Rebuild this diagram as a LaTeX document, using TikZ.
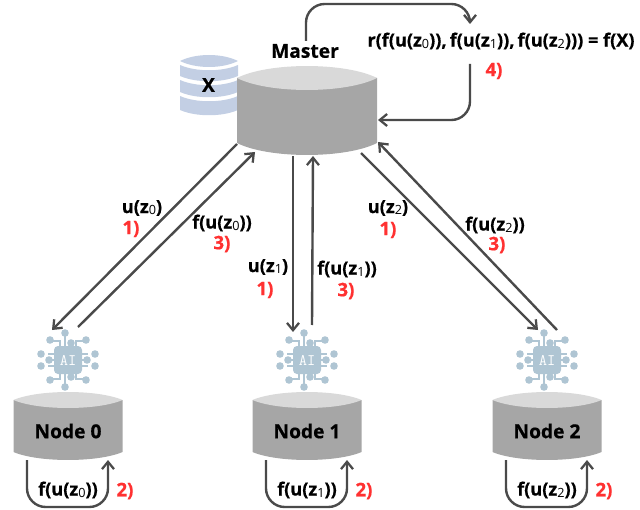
\documentclass[tikz,border=0pt]{standalone}
\usepackage{fontspec}
\setmainfont{Open Sans}[BoldFeatures={FakeBold=0.6}]
\usetikzlibrary{arrows.meta}
\definecolor{lineg}{HTML}{4A4A4A}
\definecolor{sideg}{HTML}{A6A6A6}
\definecolor{topg}{HTML}{D9D9D9}
\definecolor{dbblue}{HTML}{C3CFE4}
\definecolor{chip}{HTML}{AFC5D3}
\definecolor{redl}{HTML}{FF3131}
\newcommand{\zsub}[1]{\raisebox{-1.4pt}{\fontsize{9.5}{9.5}\selectfont\mdseries #1}}
\tikzset{
 x=0.75pt,y=-0.75pt,
 conn/.style={draw=lineg,line width=1.8pt,-{Straight Barb[length=5.5pt,width=9pt,line width=1.7pt]}},
 connr/.style={conn,rounded corners=14pt},
 lab/.style={font=\fontsize{13.6}{15}\selectfont\bfseries,text=black,inner sep=0pt},
 redlab/.style={font=\fontsize{14}{16}\selectfont\bfseries,text=redl,inner sep=0pt},
 nlab/.style={font=\fontsize{14.4}{16}\selectfont\bfseries,text=black,inner sep=0pt},
 chipline/.style={draw=chip,line width=1.1pt},
 chipdot/.style={fill=chip,draw=none},
 pics/aichip/.style={code={
  \foreach \a/\b/\c/\d/\e/\f in {-8/-10/-8/-19/-15/-19, 8/-10/8/-19/15/-19, -8/10/-8/19/-15/19, 8/10/8/19/15/19,
     -12/-6/-20/-6/-20/-6, 12/-6/20/-6/20/-6, -12/6/-20/6/-20/6, 12/6/20/6/20/6}{
   \draw[chipline] (\a,\b)--(\c,\d)--(\e,\f);}
  \draw[chipline] (-3,-12)--(-3,-20)--(-3,-26); \draw[chipline] (3,-12)--(3,-17);
  \draw[chipline] (-3,12)--(-3,20)--(-3,26); \draw[chipline] (3,12)--(3,17);
  \foreach \a/\b in {-18/-20,18/-20,-18/20,18/20,-3/-27,3/-17,-3/27,3/17,-27/-6,27/-6,-27/6,27/6,-19/0,19/0}{
   \fill[chipdot] (\a,\b) circle[radius=3.8];}
  \draw[chipline] (-19,0)--(19,0);
  \fill[chip,rounded corners=3pt] (-14,-14) rectangle (14,14);
  \node[inner sep=0pt,text=white,font=\fontsize{12}{12}\ttfamily] at (0,0) {AI};
 }}
}
\newcommand{\drawcyl}[7]{%
  \fill[#6] (#1-#3,#2) -- (#1-#3,#2+#4) .. controls (#1-#3*0.55,#2+#4+#5*1.33) and (#1+#3*0.55,#2+#4+#5*1.33) .. (#1+#3,#2+#4) -- (#1+#3,#2) -- cycle;
  \fill[#7] (#1-#3,#2) .. controls (#1-#3*0.55,#2-#5*1.33) and (#1+#3*0.55,#2-#5*1.33) .. (#1+#3,#2) .. controls (#1+#3*0.55,#2+#5*1.33) and (#1-#3*0.55,#2+#5*1.33) .. (#1-#3,#2) -- cycle;
}
\newcommand{\dbseg}[2]{%
  \fill[dbblue] (180,#1) -- (180,#2) .. controls (196,#2+7) and (222,#2+7) .. (238,#2) -- (238,#1) .. controls (222,#1+7) and (196,#1+7) .. (180,#1) -- cycle;
}
\begin{document}
\begin{tikzpicture}
\useasboundingbox (0,0) rectangle (640,510);
% X database
\dbseg{96}{110}
\dbseg{80}{92}
\dbseg{65}{76}
\fill[dbblue] (180,61) .. controls (196,53) and (222,53) .. (238,61) .. controls (222,69) and (196,69) .. (180,61) -- cycle;
\node[nlab] (xlab) at (208.5,85) {X};
% Master
\drawcyl{307}{78}{70}{65}{12}{sideg}{topg}
\node[inner sep=0pt,minimum width=140,minimum height=89] (master) at (307,110.5) {};
\node[nlab] (mlabel) at (305,51) {Master};
\node[lab] (rtext) at (501,41) {r(f(u(z\zsub{0})),\,f(u(z\zsub{1})),\,f(u(z\zsub{2}))) = f(X)};
\node[redlab] (four) at (494,71) {4)};
% Workers
\foreach \cx/\n/\nm in {68/0/n0,307/1/n1,547/2/n2}{
  \drawcyl{\cx}{400}{54.5}{52}{8}{sideg}{topg}
  \node[nlab] (\nm) at (\cx,431) {Node \n};
  \pic at (\cx,360) {aichip};
  \node[lab] (loop\n) at (\cx,490) {f(u(z\zsub{\n}))};
  \node[redlab] (two\n) at (\cx+57,491) {2)};
  \coordinate (la\n) at (\cx-41,460);
  \coordinate (lb\n) at (\cx+40,460);
  \coordinate (lc\n) at (\cx-41,507);
  \coordinate (ld\n) at (\cx+40,507);
  \draw[connr] (la\n) -- (lc\n) -- (ld\n) -- (lb\n);
}
% Top loop
\coordinate (ta) at (306,41);
\coordinate (tb) at (306,4);
\coordinate (tc) at (470,4);
\coordinate (td) at (470,24);
\draw[connr] (ta) -- (tb) -- (tc) -- (td);
\coordinate (ra) at (470,64);
\coordinate (rb) at (470,120);
\coordinate (rc) at (378,120);
\draw[connr] (ra) -- (rb) -- (rc);
% Master to workers
\coordinate (a0s) at (237,144); \coordinate (a0e) at (52,330);
\coordinate (b0s) at (78,327);  \coordinate (b0e) at (255,152);
\coordinate (a1s) at (293,156); \coordinate (a1e) at (293,332);
\coordinate (b1s) at (312,325); \coordinate (b1e) at (313,156);
\coordinate (a2s) at (361,153); \coordinate (a2e) at (538,330);
\coordinate (b2s) at (557,330); \coordinate (b2e) at (378,142);
\foreach \s/\e in {a0s/a0e,b0s/b0e,a1s/a1e,b1s/b1e,a2s/a2e,b2s/b2e}{\draw[conn] (\s) -- (\e);}
% Labels
\node[lab] (u0) at (142,208) {u(z\zsub{0})};
\node[redlab] (u0n) at (131,229) {1)};
\node[lab] (f0) at (222,223) {f(u(z\zsub{0}))};
\node[redlab] (f0n) at (222,244) {3)};
\node[lab] (u1) at (268,267) {u(z\zsub{1})};
\node[redlab] (u1n) at (265,290) {1)};
\node[lab] (f1) at (347,269) {f(u(z\zsub{1}))};
\node[redlab] (f1n) at (346,291) {3)};
\node[lab] (u2) at (388,208) {u(z\zsub{2})};
\node[redlab] (u2n) at (388,230) {1)};
\node[lab] (f2) at (495,225) {f(u(z\zsub{2}))};
\node[redlab] (f2n) at (497,245) {3)};
\end{tikzpicture}
\end{document}
